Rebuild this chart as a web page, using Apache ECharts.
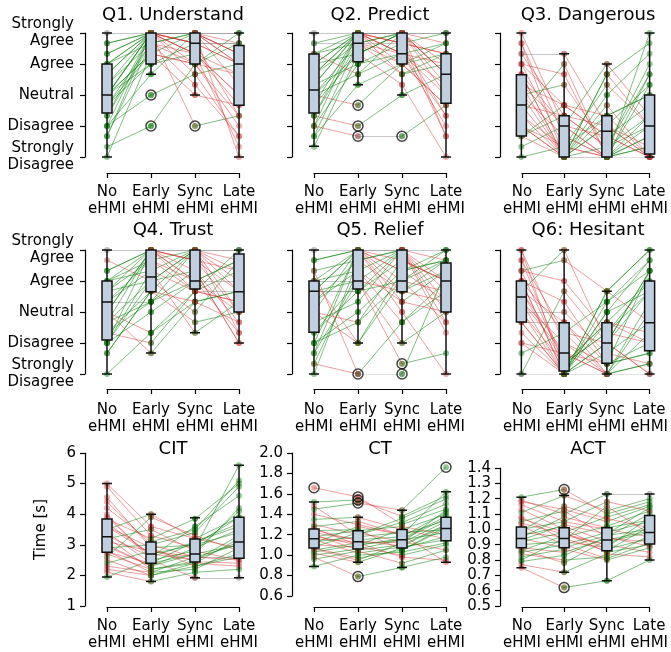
<!DOCTYPE html>
<html>
<head>
<meta charset="utf-8">
<script src="https://cdn.jsdelivr.net/npm/echarts@6.0.0/dist/echarts.min.js"></script>
<style>
html, body { margin: 0; padding: 0; background: #fff; }
#chart { width: 671px; height: 652px; }
</style>
</head>
<body>
<div id="chart"></div>
<script>
var conditions = ['No\neHMI', 'Early\neHMI', 'Sync\neHMI', 'Late\neHMI'];
var likertLabels = ['Strongly\nDisagree', 'Disagree', 'Neutral', 'Agree', 'Strongly\nAgree'];

// one row per participant: [No, Early, Sync, Late]
var q1Rows = [
    [5, 5, 5, 5], [4.67, 5, 5, 4.33], [4.33, 5, 4.67, 4], [4, 5, 5, 4.67],
    [4, 4.67, 5, 3.33], [4, 5, 4.33, 2.67], [3.67, 5, 5, 4], [3.33, 4.67, 4, 2],
    [3, 5, 4.67, 4.67], [3, 4.33, 5, 1], [3, 5, 3.67, 4], [3, 4, 4.33, 3],
    [3, 5, 5, 5], [2.67, 4.33, 4, 2.33], [2.33, 5, 4.67, 4], [2.33, 4.67, 3.33, 1.67],
    [2, 3.67, 5, 4.33], [2, 5, 4, 3.67], [2, 3, 3.67, 1.67], [1.67, 4.67, 4.33, 3],
    [1.33, 2, 4, 5], [1, 4.33, 3, 2.67], [3.67, 5, 2, 2.33], [2.67, 4, 4.67, 4.67],
    [4.33, 5, 5, 4.33], [3.33, 5, 4.33, 3.67], [2.67, 4.67, 5, 4], [1.67, 5, 4.67, 2.33],
    [3, 4.33, 4, 4.67], [4.67, 5, 4.33, 1.33]
];
var q1Box = [[1, 2.42, 3, 4, 5], [3.67, 4, 5, 5, 5], [3, 4, 4.67, 5, 5], [1, 2.67, 4, 4.6, 5]];
var q1Outliers = [[1, 3], [1, 2], [2, 2]];

var q2Rows = [
    [5, 5, 5, 5], [4.67, 5, 4.67, 4.33], [4.33, 5, 5, 3.67], [4.33, 4.67, 5, 4.67],
    [4, 5, 4.33, 3], [4, 4.33, 5, 4], [3.67, 5, 4, 2.67], [3.67, 4.67, 5, 5],
    [3.33, 4, 4.33, 3.33], [3.33, 5, 4.67, 1.67], [3, 4.67, 3.67, 4.33], [3, 3.67, 4.33, 2],
    [3, 2.67, 4, 4.67], [2.67, 5, 5, 3.67], [2.67, 4.33, 3.33, 1], [2.33, 2, 3, 3.67],
    [2.33, 4.67, 4.67, 2.33], [2, 5, 4.33, 4], [2, 1.67, 1.67, 2.67], [1.67, 3.33, 4, 4.33],
    [1.33, 4.33, 5, 3], [2, 4, 4.67, 5], [4.67, 4.67, 4.33, 2.33], [3.67, 5, 3.67, 4],
    [4, 5, 4.67, 4.33], [3, 4.33, 5, 3.33], [2.33, 5, 4.33, 4.67], [1.67, 4.67, 4, 2.67],
    [4.33, 3.67, 5, 3.67], [3.33, 5, 5, 1.67]
];
var q2Box = [[1.35, 2.42, 3.16, 4.32, 5], [3.33, 4.07, 4.67, 5, 5], [3, 4, 4.33, 5, 5], [1, 2.73, 3.67, 4.33, 5]];
var q2Outliers = [[1, 2.67], [1, 2], [1, 1.67], [2, 1.67]];

var q3Rows = [
    [5, 2, 1, 1.67], [4.67, 1, 1.33, 2], [4.33, 4.33, 2, 1], [4, 3.67, 1, 1.33],
    [4, 1.33, 2.33, 3], [3.67, 1, 1, 5], [3.67, 2, 4, 2.33], [3.33, 2.67, 1.67, 1],
    [3, 1, 3.67, 4.67], [3, 1.67, 1, 2], [2.67, 1, 2.67, 1], [2.67, 2.33, 1.33, 4],
    [2.33, 1, 2, 3.33], [2.33, 4, 1, 1.33], [2, 1.33, 3.33, 2], [2, 1, 1, 3.67],
    [1.67, 2.67, 2.33, 1], [1.67, 1, 3, 4.33], [1.33, 2, 1.67, 2.67], [1, 1.33, 1, 1.67],
    [4.33, 2.33, 2, 1], [3, 3.33, 1.33, 2.33], [2, 1, 2.33, 3], [3.33, 2, 1, 1],
    [4.67, 1.67, 1, 2.33], [3.67, 1, 2, 1.33], [2.33, 1.33, 1, 3.33], [3.33, 1, 3.67, 2],
    [1.67, 2.33, 1.33, 3.67], [4, 2.67, 1.67, 1]
];
var q3Box = [[1, 1.68, 2.68, 3.65, 5], [1, 1, 2, 2.33, 4.33], [1, 1, 1.83, 2.33, 4], [1, 1.1, 2, 3, 5]];
var q3Outliers = [];

var q4Rows = [
    [5, 5, 5, 5], [4.33, 5, 4.67, 3.67], [4, 4.67, 5, 4.33], [4, 5, 4, 3],
    [3.67, 4, 5, 4.67], [3.67, 5, 3.67, 3.33], [3.33, 3.33, 4, 2.33], [3.33, 4.33, 5, 4],
    [3, 5, 4.33, 2], [3, 2.33, 3.33, 3.67], [2.67, 4, 3, 4.67], [2.67, 5, 4.67, 3],
    [2.33, 3.67, 5, 5], [2.33, 2, 3.67, 3.67], [2, 4.33, 2.33, 3.33], [2, 3, 4, 4],
    [2, 5, 5, 2.33], [1.67, 3.67, 2.67, 3], [1, 2.33, 3.67, 4.33], [4.67, 4, 4.33, 2],
    [3.67, 4.67, 4, 4.67], [3, 1.67, 3.33, 3.67], [2.33, 3.33, 5, 3], [4, 4.33, 3.67, 5],
    [4.33, 5, 4.67, 4.33], [3.33, 4.67, 3.67, 3.33], [2.67, 3.33, 4.33, 2.67], [2, 4, 5, 3.67],
    [3, 5, 4, 4.67], [1.67, 3.67, 3.33, 2.67]
];
var q4Box = [[1, 2.1, 3.32, 4, 5], [1.68, 3.65, 4.13, 5, 5], [2.33, 3.74, 4, 5, 5], [2, 3, 3.65, 4.87, 5]];
var q4Outliers = [];

var q5Rows = [
    [5, 5, 5, 5], [4.67, 5, 4.67, 4], [4.33, 4.67, 5, 3], [4, 5, 4, 4.67],
    [4, 4, 5, 2.67], [3.67, 5, 3.67, 4.33], [3.67, 3.67, 5, 3.33], [3.67, 5, 4.33, 5],
    [3.33, 4.33, 2.67, 4], [3, 2, 4, 3.67], [3, 5, 3, 1], [2.67, 3.33, 5, 4.67],
    [2.33, 4, 2, 3], [2, 2.67, 4.67, 4], [2, 5, 3.33, 4.33], [1.67, 4, 1.33, 1.67],
    [1.33, 1, 2.67, 3.67], [1, 4.67, 5, 4], [4.33, 1, 1, 4.33], [3.67, 3.67, 4, 2.67],
    [2, 3, 4.33, 4.67], [1.33, 4.33, 3.33, 3], [4, 4.33, 5, 3.67], [3, 2.67, 4, 5],
    [4.67, 5, 4.33, 4.67], [3.33, 4.67, 3.67, 3.33], [2.33, 3.67, 4.67, 4], [1.67, 5, 5, 2.33],
    [3.67, 4, 3.67, 4.67], [4, 2, 4.33, 3.33]
];
var q5Box = [[1, 2.35, 3.67, 4, 5], [2, 3.74, 4, 5, 5], [2, 3.65, 4, 5, 5], [1, 3, 4, 4.58, 5]];
var q5Outliers = [[1, 1], [2, 1.33], [2, 1]];

var q6Rows = [
    [5, 1, 2, 4.33], [4.67, 2.33, 1, 1.33], [4.33, 4.67, 3.67, 5], [4, 1, 3, 4.67],
    [4, 3.33, 1.33, 2], [3.67, 1.33, 2.33, 4], [3.67, 5, 2, 1], [3.33, 2, 1, 3],
    [3.33, 1, 3.33, 4.33], [3, 3, 1.67, 1.33], [3, 1.33, 2.67, 4], [2.67, 1, 2, 3.67],
    [2.67, 2.67, 1, 2.33], [2.33, 1, 3.67, 5], [2, 1.67, 1.33, 1.67], [1, 3.67, 2, 1],
    [1, 1, 1, 3.33], [4.67, 1.33, 2.67, 2], [4, 2.33, 3.33, 4.67], [3, 1, 1.67, 2.67],
    [3.67, 1.67, 1, 1.33], [4.33, 4, 2.33, 2], [2, 1, 3, 3.67], [5, 2, 1.33, 1.67],
    [4.33, 1.33, 2.33, 3.67], [3.67, 2.67, 1.33, 4.33], [2.67, 1, 2.67, 2.33], [3.33, 1.67, 1, 1],
    [4, 1, 3.67, 2.67], [1.67, 2.33, 2, 4.33]
];
var q6Box = [[1, 2.68, 3.48, 4, 5], [1, 1.1, 1.68, 2.65, 5], [1, 1.35, 2, 2.65, 3.67], [1, 1.75, 2.65, 4, 5]];
var q6Outliers = [];

var citRows = [
    [5.0, 3.6, 3.2, 2.9], [4.9, 3.3, 2.9, 5.6], [4.55, 2.9, 3.0, 3.9], [4.2, 3.1, 3.5, 5.1],
    [4.0, 2.5, 2.8, 4.1], [3.84, 3.2, 3.85, 5.0], [3.7, 2.7, 2.5, 3.3], [3.5, 4.0, 3.2, 3.9],
    [3.4, 2.4, 2.7, 3.0], [3.3, 2.6, 3.6, 4.6], [3.25, 2.2, 2.4, 2.3], [3.1, 2.8, 2.5, 3.1],
    [3.0, 2.3, 2.9, 3.5], [2.9, 3.0, 2.6, 2.6], [2.8, 2.1, 2.2, 2.9], [2.76, 2.4, 3.1, 3.7],
    [2.6, 3.9, 3.3, 2.8], [2.5, 2.0, 2.4, 3.2], [2.4, 2.8, 2.6, 2.5], [2.2, 2.0, 2.3, 2.6],
    [2.1, 1.8, 2.1, 2.2], [1.95, 2.5, 1.92, 1.92], [3.6, 2.7, 3.0, 3.4], [2.7, 2.2, 2.45, 2.4],
    [4.4, 3.0, 3.4, 4.9], [3.9, 2.6, 3.1, 3.6], [3.2, 3.5, 2.8, 2.5], [2.95, 2.3, 2.7, 4.2],
    [2.3, 2.1, 2.6, 3.0], [3.6, 2.9, 2.3, 2.7]
];
var citBox = [[1.95, 2.76, 3.26, 3.84, 5.0], [1.8, 2.4, 2.7, 3.09, 4.0], [1.92, 2.44, 2.7, 3.19, 3.88], [1.92, 2.56, 3.09, 3.9, 5.6]];
var citOutliers = [];

var ctRows = [
    [1.66, 1.57, 1.30, 1.45], [1.52, 1.54, 1.38, 1.58], [1.45, 1.51, 1.44, 1.86], [1.40, 1.30, 1.20, 1.62],
    [1.35, 1.37, 1.25, 1.40], [1.30, 1.20, 1.32, 1.50], [1.26, 1.10, 1.15, 1.36], [1.24, 1.25, 1.05, 1.28],
    [1.22, 1.15, 1.18, 1.42], [1.20, 1.05, 1.10, 1.30], [1.18, 1.24, 1.28, 1.20], [1.16, 1.13, 1.12, 1.33],
    [1.15, 1.02, 1.08, 1.15], [1.13, 1.18, 1.22, 1.25], [1.10, 1.08, 1.00, 1.10], [1.08, 1.22, 1.13, 1.05],
    [1.07, 0.97, 1.05, 1.26], [1.05, 1.12, 0.98, 0.95], [1.02, 0.93, 1.07, 1.18], [1.00, 1.06, 1.15, 1.22],
    [0.98, 0.79, 0.88, 0.98], [0.89, 1.00, 1.03, 1.12], [1.28, 1.33, 1.20, 0.93], [1.03, 1.10, 1.16, 1.38],
    [1.48, 1.20, 1.36, 1.55], [1.25, 1.14, 1.09, 1.29], [1.12, 1.28, 1.20, 1.34], [1.06, 0.95, 1.12, 1.44],
    [0.96, 1.04, 0.92, 1.05], [1.19, 1.10, 1.25, 1.16]
];
var ctBox = [[0.89, 1.07, 1.16, 1.257, 1.52], [0.93, 1.06, 1.13, 1.24, 1.37], [0.88, 1.07, 1.15, 1.25, 1.44], [0.93, 1.14, 1.26, 1.37, 1.62]];
var ctOutliers = [[0, 1.66], [1, 1.57], [1, 1.54], [1, 1.51], [1, 0.79], [3, 1.86]];

var actRows = [
    [1.21, 1.26, 1.10, 1.18], [1.19, 1.10, 1.23, 1.23], [1.18, 1.13, 1.05, 1.15], [1.11, 1.22, 1.12, 1.20],
    [1.07, 0.98, 1.08, 1.16], [1.05, 1.12, 0.95, 1.10], [1.02, 0.90, 0.98, 1.05], [1.00, 1.05, 1.00, 0.95],
    [0.98, 0.95, 1.02, 1.12], [0.96, 1.02, 0.92, 0.98], [0.94, 0.88, 0.96, 1.00], [0.92, 0.98, 0.85, 0.90],
    [0.90, 0.92, 0.88, 1.08], [0.88, 0.85, 0.94, 0.92], [0.86, 0.96, 0.90, 0.85], [0.84, 0.80, 0.82, 0.96],
    [0.82, 0.87, 0.80, 0.88], [0.80, 0.94, 0.86, 1.02], [0.77, 0.72, 0.84, 0.82], [0.75, 0.62, 0.665, 0.80],
    [1.08, 0.93, 1.15, 0.97], [0.95, 1.08, 1.01, 1.06], [0.87, 0.78, 0.93, 0.99], [1.13, 1.00, 0.87, 0.94],
    [1.16, 1.05, 1.18, 1.12], [1.04, 0.97, 0.90, 1.03], [0.93, 1.03, 0.97, 1.14], [0.85, 0.90, 0.81, 0.91],
    [0.79, 0.83, 0.95, 0.89], [0.99, 1.15, 1.07, 1.01]
];
var actBox = [[0.75, 0.88, 0.94, 1.016, 1.21], [0.72, 0.88, 0.94, 1.01, 1.22], [0.665, 0.86, 0.93, 1.01, 1.23], [0.80, 0.905, 0.98, 1.09, 1.23]];
var actOutliers = [[1, 1.26], [1, 0.62]];

var panels = [
    {title: 'Q1. Understand', rows: q1Rows, box: q1Box, out: q1Outliers, min: 1, max: 5, step: 1, label: 'likert'},
    {title: 'Q2. Predict', rows: q2Rows, box: q2Box, out: q2Outliers, min: 1, max: 5, step: 1, label: 'none'},
    {title: 'Q3. Dangerous', rows: q3Rows, box: q3Box, out: q3Outliers, min: 1, max: 5, step: 1, label: 'none'},
    {title: 'Q4. Trust', rows: q4Rows, box: q4Box, out: q4Outliers, min: 1, max: 5, step: 1, label: 'likert'},
    {title: 'Q5. Relief', rows: q5Rows, box: q5Box, out: q5Outliers, min: 1, max: 5, step: 1, label: 'none'},
    {title: 'Q6: Hesitant', rows: q6Rows, box: q6Box, out: q6Outliers, min: 1, max: 5, step: 1, label: 'none'},
    {title: 'CIT', rows: citRows, box: citBox, out: citOutliers, min: 1, max: 6, step: 1, label: 'int', name: 'Time [s]'},
    {title: 'CT', rows: ctRows, box: ctBox, out: ctOutliers, min: 0.6, max: 2.0, step: 0.2, label: 'dec'},
    {title: 'ACT', rows: actRows, box: actBox, out: actOutliers, min: 0.5, max: 1.4, step: 0.1, label: 'dec'}
];

// layout (pixels)
var band = 44;
var colLeft = [85, 292, 500];
var rowAxisY = [173, 389, 607];
var rowTitleTop = [6, 221, 440];
var gridBox = [
    [33, 124], [33, 124], [33, 124],
    [250, 124], [250, 124], [250, 124],
    [453, 153], [453, 143], [468, 138]
];

var green = 'rgba(0,128,0,0.5)';
var red = 'rgba(214,39,40,0.45)';
var gray = 'rgba(128,128,128,0.45)';
var dotGreen = 'rgba(0,128,0,0.55)';
var dotRed = 'rgba(214,39,40,0.5)';
var dotGray = 'rgba(90,90,90,0.5)';
var font = 'DejaVu Sans';

var option = {
    animation: false,
    backgroundColor: '#fff',
    textStyle: {fontFamily: font, color: '#000'},
    title: [],
    grid: [],
    xAxis: [],
    yAxis: [],
    series: []
};

panels.forEach(function (p, i) {
    var col = i % 3, row = Math.floor(i / 3);
    var left = colLeft[col];
    var g = 2 * i;

    option.title.push({
        text: p.title,
        left: left + 2 * band,
        top: rowTitleTop[row],
        textAlign: 'center',
        padding: 0,
        textStyle: {fontFamily: font, fontSize: 18, fontWeight: 'normal', color: '#000'}
    });

    option.grid.push({left: left, top: gridBox[i][0], width: 4 * band, height: gridBox[i][1]});
    option.grid.push({left: left + band / 2, top: rowAxisY[row] - 10, width: 3 * band, height: 10});

    option.xAxis.push({gridIndex: g, type: 'category', data: conditions, boundaryGap: true, show: false});
    option.yAxis.push({
        gridIndex: g, type: 'value', min: p.min, max: p.max, interval: p.step,
        name: p.name || '', nameLocation: 'middle', nameGap: 36,
        nameTextStyle: {fontFamily: font, fontSize: 15, color: '#000'},
        axisLine: {show: true, lineStyle: {color: '#000', width: 1.2}},
        axisTick: {show: true, length: 5, lineStyle: {color: '#000', width: 1.2}},
        splitLine: {show: false},
        axisLabel: {
            show: p.label !== 'none',
            margin: p.label === 'likert' ? 11 : 9,
            fontFamily: font, fontSize: 15, lineHeight: p.label === 'dec' ? 14 : 17, color: '#000',
            hideOverlap: false,
            showMinLabel: true, showMaxLabel: true,
            formatter: function (v) {
                if (p.label === 'likert') return likertLabels[Math.round(v) - 1];
                if (p.label === 'dec') return v.toFixed(1);
                return String(Math.round(v));
            }
        }
    });

    option.xAxis.push({
        gridIndex: g + 1, type: 'category', data: conditions, boundaryGap: false, position: 'bottom',
        axisLine: {show: true, lineStyle: {color: '#000', width: 1.2}},
        axisTick: {show: true, length: 5, interval: 0, lineStyle: {color: '#000', width: 1.2}},
        axisLabel: {interval: 0, margin: row === 1 ? 13 : 11, fontFamily: font, fontSize: 15, lineHeight: 17, color: '#000'},
        splitLine: {show: false}
    });
    option.yAxis.push({gridIndex: g + 1, type: 'value', show: false, splitLine: {show: false}});

    var segs = [], dots = [];
    p.rows.forEach(function (r) {
        for (var k = 0; k < 3; k++) {
            var a = r[k], b = r[k + 1];
            var c = b > a ? green : (b < a ? red : gray);
            var dc = b > a ? dotGreen : (b < a ? dotRed : dotGray);
            segs.push({coords: [[k, a], [k + 1, b]], lineStyle: {color: c}});
            dots.push({value: [k, a], itemStyle: {color: dc}});
            dots.push({value: [k + 1, b], itemStyle: {color: dc}});
        }
    });

    option.series.push({
        type: 'lines', coordinateSystem: 'cartesian2d', xAxisIndex: g, yAxisIndex: g,
        polyline: false, silent: true, z: 1,
        lineStyle: {width: 1, opacity: 1, curveness: 0},
        data: segs
    });
    option.series.push({
        type: 'scatter', xAxisIndex: g, yAxisIndex: g, symbolSize: 6, silent: true, z: 2,
        data: dots
    });
    option.series.push({
        type: 'boxplot', xAxisIndex: g, yAxisIndex: g, boxWidth: [10, 10], silent: true, z: 3,
        itemStyle: {color: '#bfcfdf', borderColor: '#111', borderWidth: 1.5},
        data: p.box
    });
    option.series.push({
        type: 'scatter', xAxisIndex: g, yAxisIndex: g, symbolSize: 10, silent: true, z: 4,
        itemStyle: {color: 'rgba(0,0,0,0)', borderColor: '#111', borderWidth: 1.5},
        data: p.out
    });
});

var chart = echarts.init(document.getElementById('chart'), null, {renderer: 'canvas'});
chart.setOption(option);
</script>
</body>
</html>
